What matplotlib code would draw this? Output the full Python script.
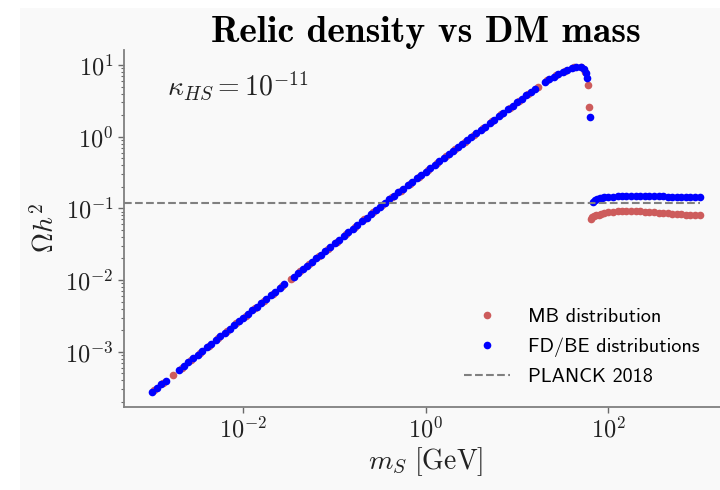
import matplotlib
matplotlib.use('Agg')
import matplotlib.pyplot as plt
from matplotlib.patches import Rectangle

plt.rcParams['mathtext.fontset'] = 'cm'
plt.rcParams['font.family'] = 'serif'
plt.rcParams['font.serif'] = ['cmr10']
plt.rcParams['axes.formatter.use_mathtext'] = True

# FD/BE scan: mass [GeV] and relic density
mass_fd = [
    1.00e-3, 1.12e-3, 1.26e-3, 1.41e-3, 2.00e-3, 2.24e-3, 2.51e-3, 2.82e-3, 3.16e-3, 3.55e-3,
    3.98e-3, 4.47e-3, 5.01e-3, 5.62e-3, 6.31e-3, 7.08e-3, 7.94e-3, 8.91e-3,
    1.00e-2, 1.12e-2, 1.26e-2, 1.41e-2, 1.58e-2, 1.78e-2, 2.00e-2, 2.24e-2, 2.51e-2, 2.82e-2,
    3.55e-2, 3.98e-2, 4.47e-2, 5.01e-2, 5.62e-2, 6.31e-2, 7.08e-2, 7.94e-2, 8.91e-2,
    1.00e-1, 1.12e-1, 1.26e-1, 1.41e-1, 1.58e-1, 1.78e-1, 2.00e-1, 2.24e-1, 2.51e-1, 2.82e-1,
    3.16e-1, 3.55e-1, 3.98e-1, 4.47e-1, 5.01e-1, 5.62e-1, 6.31e-1, 7.08e-1, 7.94e-1, 8.91e-1,
    1.00, 1.12, 1.26, 1.41, 1.58, 1.78, 2.00, 2.24, 2.51, 2.82,
    3.16, 3.55, 3.98, 4.47, 5.01, 5.62, 6.31, 7.08, 7.94, 8.91,
    10.0, 11.2, 12.6, 14.1, 15.8, 20.0, 22.4, 25.1, 28.2,
    31.6, 35.5, 39.8, 44.7, 50.1, 53.7, 56.2, 58.2, 62.7,
    68, 72, 76, 80, 85, 90, 100, 112, 126, 141, 158, 178, 200, 224, 251, 282,
    316, 355, 398, 447, 501, 562, 631, 708, 794, 891, 1000,
]
omega_fd = [
    2.75e-4, 3.10e-4, 3.49e-4, 3.94e-4, 5.63e-4, 6.34e-4, 7.14e-4, 8.05e-4, 9.06e-4, 1.02e-3,
    1.15e-3, 1.30e-3, 1.46e-3, 1.64e-3, 1.85e-3, 2.09e-3, 2.35e-3, 2.65e-3,
    2.99e-3, 3.36e-3, 3.79e-3, 4.27e-3, 4.81e-3, 5.42e-3, 6.10e-3, 6.87e-3, 7.74e-3, 8.72e-3,
    1.11e-2, 1.25e-2, 1.41e-2, 1.58e-2, 1.78e-2, 2.01e-2, 2.26e-2, 2.55e-2, 2.87e-2,
    3.24e-2, 3.65e-2, 4.11e-2, 4.63e-2, 5.21e-2, 5.87e-2, 6.61e-2, 7.45e-2, 8.39e-2, 9.45e-2,
    0.106, 0.120, 0.134, 0.150, 0.167, 0.187, 0.209, 0.234, 0.261, 0.292,
    0.326, 0.365, 0.407, 0.455, 0.508, 0.568, 0.635, 0.710, 0.793, 0.887,
    0.991, 1.11, 1.24, 1.38, 1.55, 1.73, 1.93, 2.16, 2.41, 2.69,
    3.01, 3.36, 3.76, 4.20, 4.69, 5.86, 6.3, 6.9, 7.5,
    8.0, 8.6, 9.1, 9.4, 9.3, 8.8, 7.7, 6.5, 1.9,
    0.122, 0.131, 0.136, 0.139, 0.141, 0.142, 0.144, 0.146, 0.147, 0.148, 0.148, 0.148, 0.148,
    0.148, 0.148, 0.148, 0.147, 0.147, 0.147, 0.146, 0.146, 0.146, 0.146, 0.145, 0.145, 0.145,
    0.145,
]

# MB scan
mass_mb = [
    1.06e-3, 1.33e-3, 1.68e-3, 2.11e-3, 2.66e-3, 3.35e-3, 4.22e-3, 5.31e-3, 6.68e-3, 8.41e-3,
    1.06e-2, 1.33e-2, 1.68e-2, 2.11e-2, 2.66e-2, 3.35e-2, 4.22e-2, 5.31e-2, 6.68e-2, 8.41e-2,
    1.06e-1, 1.33e-1, 1.68e-1, 2.11e-1, 2.66e-1, 3.35e-1, 4.22e-1, 5.31e-1, 6.68e-1, 8.41e-1,
    1.06, 1.33, 1.68, 2.11, 2.66, 3.35, 4.22, 5.31, 6.68, 8.41,
    10.6, 13.3, 16.8, 21.1, 26.6, 33.5, 42.2, 50.1, 55.0, 60.2, 61.7,
    65, 67, 70, 74, 79, 84, 89, 100, 112, 126, 141, 158, 178, 200, 224,
    251, 282, 316, 355, 398, 447, 501, 562, 631, 708, 794, 891, 1000,
]
omega_mb = [
    2.92e-4, 3.71e-4, 4.71e-4, 5.97e-4, 7.59e-4, 9.62e-4, 1.22e-3, 1.55e-3, 1.97e-3, 2.49e-3,
    3.17e-3, 4.02e-3, 5.10e-3, 6.47e-3, 8.22e-3, 1.04e-2, 1.32e-2, 1.68e-2, 2.13e-2, 2.70e-2,
    3.44e-2, 4.36e-2, 5.53e-2, 7.02e-2, 8.91e-2, 0.113, 0.142, 0.177, 0.221, 0.276,
    0.345, 0.431, 0.538, 0.671, 0.839, 1.05, 1.31, 1.63, 2.04, 2.55,
    3.18, 3.97, 4.96, 6.1, 7.2, 8.3, 9.3, 9.3, 7.9, 5.25, 2.6,
    0.072, 0.075, 0.078, 0.080, 0.082, 0.084, 0.086, 0.088, 0.090, 0.091, 0.091, 0.091, 0.091,
    0.091, 0.091, 0.090, 0.089, 0.088, 0.087, 0.086, 0.085, 0.084, 0.083, 0.083, 0.082, 0.082,
    0.081, 0.081,
]

planck = 0.12
bg = '#f9f9f9'

fig = plt.figure(figsize=(7.2, 4.9), dpi=100, facecolor='white')
fig.patches.append(Rectangle((20 / 720, 0), 1, 1 - 8 / 490, transform=fig.transFigure,
                             facecolor=bg, edgecolor='none', zorder=-10))
ax = fig.add_axes([124 / 720, 1 - 406.7 / 490, 603 / 720, 356.7 / 490])
ax.set_facecolor(bg)

ax.plot(mass_mb, omega_mb, 'o', ms=5.5, color='indianred', mec='none', label='MB distribution')
ax.plot(mass_fd, omega_fd, 'o', ms=5.5, color='blue', mec='none', label='FD/BE distributions')
ax.hlines(planck, 10**-3.307, 1000, colors='grey', linestyles='--', lw=1.5, label='PLANCK 2018')

ax.set_xscale('log')
ax.set_yscale('log')
ax.set_xlim(10**-3.307, 10**3.3)
ax.set_ylim(10**-3.767, 10**1.209)
ax.set_xticks([1e-2, 1, 1e2])
ax.xaxis.set_minor_locator(matplotlib.ticker.NullLocator())

for s in ['top', 'right']:
    ax.spines[s].set_visible(False)
for s in ['left', 'bottom']:
    ax.spines[s].set_color('gray')
    ax.spines[s].set_linewidth(1.3)
ax.tick_params(which='both', colors='dimgray', labelcolor='#222222', labelsize=17.5)
ax.tick_params(which='major', length=4, width=1)
ax.tick_params(which='minor', length=2.5, width=0.8)

ax.set_xlabel(r'$m_S\ [\mathrm{GeV}]$', fontsize=20, color='#222222', labelpad=2)
ax.set_ylabel(r'$\Omega h^2$', fontsize=20, color='#222222', labelpad=4)
ax.set_title('Relic density vs DM mass', fontfamily='cmb10', fontsize=27, pad=6)
ax.text(0.071, 0.90, r'$\kappa_{HS} = 10^{-11}$', transform=ax.transAxes,
        fontsize=20, va='center', color='#222222')

leg = ax.legend(loc='lower right', bbox_to_anchor=(710 / 720, 1 - 396 / 490),
                bbox_transform=fig.transFigure, frameon=False, borderpad=0,
                prop={'family': 'cmss10', 'size': 14.5}, handlelength=2.3,
                handletextpad=0.9, labelspacing=0.55)

fig.savefig('out.png', dpi=100, facecolor=fig.get_facecolor())
